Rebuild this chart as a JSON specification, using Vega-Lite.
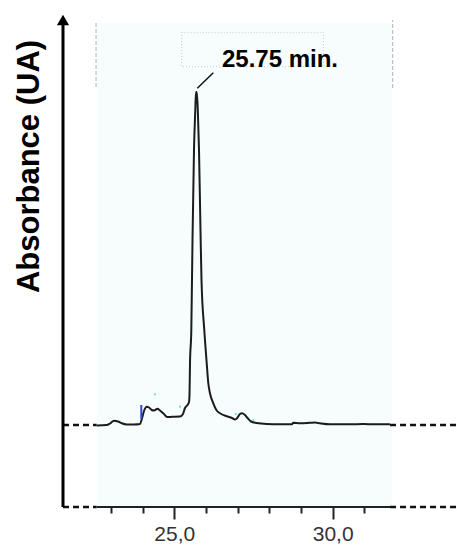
{
  "$schema": "https://vega.github.io/schema/vega-lite/v6.json",
  "width": 394,
  "height": 493,
  "autosize": "none",
  "padding": {"left": 63, "top": 14, "right": 0, "bottom": 38},
  "background": "white",
  "config": {"view": {"stroke": null}},
  "datasets": {
    "panel": [{"t": 22.55, "t2": 31.87, "a": -82, "a2": 402}],
    "frameEdges": [{"t": 22.53, "a": 338, "a2": 402}, {"t": 31.894, "a": 337, "a2": 405}],
    "labelBox": [{"t": 25.234, "t2": 29.706, "a": 358.3, "a2": 392.3}],
    "dashed": [
      {"t": 21.487, "t2": 22.55, "a": 0},
      {"t": 31.81, "t2": 33.924, "a": 0},
      {"t": 21.487, "t2": 22.55, "a": -82},
      {"t": 31.81, "t2": 33.924, "a": -82}
    ],
    "axisLine": [{"t": 22.55, "t2": 31.81, "a": -82}],
    "yAxis": [{"t": 21.487, "a": -82, "a2": 405}],
    "arrowHead": [{"t": 21.487, "a": 405}],
    "curve": [
      {"t": 22.550, "a": -0.5},
      {"t": 22.866, "a": 0},
      {"t": 22.970, "a": 1.5},
      {"t": 23.097, "a": 4.3},
      {"t": 23.223, "a": 3.5},
      {"t": 23.340, "a": 1.7},
      {"t": 23.497, "a": 0.5},
      {"t": 23.728, "a": 0.5},
      {"t": 23.917, "a": 1},
      {"t": 23.971, "a": 5.5},
      {"t": 24.044, "a": 14},
      {"t": 24.129, "a": 18.3},
      {"t": 24.201, "a": 17.5},
      {"t": 24.287, "a": 15},
      {"t": 24.359, "a": 14.5},
      {"t": 24.470, "a": 16.2},
      {"t": 24.549, "a": 14.5},
      {"t": 24.653, "a": 11.7},
      {"t": 24.779, "a": 8},
      {"t": 24.927, "a": 8.2},
      {"t": 25.180, "a": 8.5},
      {"t": 25.275, "a": 11},
      {"t": 25.338, "a": 17},
      {"t": 25.417, "a": 20},
      {"t": 25.464, "a": 23},
      {"t": 25.480, "a": 30},
      {"t": 25.496, "a": 62},
      {"t": 25.537, "a": 95},
      {"t": 25.575, "a": 185},
      {"t": 25.622, "a": 275},
      {"t": 25.663, "a": 315},
      {"t": 25.685, "a": 333},
      {"t": 25.710, "a": 333},
      {"t": 25.742, "a": 315},
      {"t": 25.780, "a": 275},
      {"t": 25.827, "a": 195},
      {"t": 25.859, "a": 145},
      {"t": 25.947, "a": 95},
      {"t": 26.023, "a": 62},
      {"t": 26.073, "a": 42},
      {"t": 26.127, "a": 31.7},
      {"t": 26.231, "a": 21.7},
      {"t": 26.338, "a": 14.5},
      {"t": 26.443, "a": 11.7},
      {"t": 26.654, "a": 8.7},
      {"t": 26.821, "a": 7},
      {"t": 26.916, "a": 5.5},
      {"t": 26.989, "a": 7},
      {"t": 27.074, "a": 11},
      {"t": 27.137, "a": 11.7},
      {"t": 27.232, "a": 10},
      {"t": 27.326, "a": 6.5},
      {"t": 27.421, "a": 3.5},
      {"t": 27.601, "a": 2},
      {"t": 27.917, "a": 1},
      {"t": 28.337, "a": 0.7},
      {"t": 28.715, "a": 0.7},
      {"t": 28.756, "a": 2.2},
      {"t": 28.968, "a": 1.7},
      {"t": 29.283, "a": 2.2},
      {"t": 29.441, "a": 2.5},
      {"t": 29.599, "a": 1.7},
      {"t": 29.915, "a": 0.7},
      {"t": 30.546, "a": 0.7},
      {"t": 30.956, "a": 1},
      {"t": 31.335, "a": 0.7},
      {"t": 31.809, "a": 0.7}
    ],
    "blueMark": [{"t": 23.958, "a": 6, "a2": 20}],
    "specks": [
      {"t": 24.391, "a": 30.7},
      {"t": 25.180, "a": 18.3},
      {"t": 26.938, "a": 11},
      {"t": 27.494, "a": 5}
    ],
    "leader": [{"t": 25.726, "t2": 26.231, "a": 336.7, "a2": 352.3}],
    "peakLabel": [{"t": 28.337, "a": 358.3, "text": "25.75 min."}]
  },
  "encoding": {
    "x": {
      "field": "t",
      "type": "quantitative",
      "scale": {"domain": [21.487, 33.924], "nice": false, "zero": false},
      "axis": {
        "values": [23, 24, 25, 26, 27, 28, 29, 30, 31],
        "labelExpr": "datum.value % 5 === 0 ? replace(format(datum.value, '.1f'), '.', ',') : ''",
        "tickSize": {"condition": {"test": "datum.value % 5 === 0", "value": 12}, "value": 6},
        "tickWidth": 2,
        "tickColor": "#222222",
        "domain": false,
        "grid": false,
        "title": null,
        "labelFontSize": 21,
        "labelFont": "Liberation Sans",
        "labelColor": "#333333",
        "labelPadding": 4,
        "labelFlush": false,
        "labelOverlap": false
      }
    },
    "y": {
      "field": "a",
      "type": "quantitative",
      "scale": {"domain": [-82, 411], "nice": false, "zero": false},
      "axis": {
        "title": "Absorbance (UA)",
        "titleFontSize": 31,
        "titleFont": "Liberation Sans",
        "titleFontWeight": "bold",
        "titleColor": "#000000",
        "titleX": -25,
        "titleY": 152,
        "titleAngle": 270,
        "titleAlign": "center",
        "titleBaseline": "alphabetic",
        "domain": false,
        "ticks": false,
        "labels": false,
        "grid": false
      }
    }
  },
  "layer": [
    {
      "data": {"name": "panel"},
      "mark": {"type": "rect", "fill": "#f7fcfc", "stroke": null},
      "encoding": {"x2": {"field": "t2"}, "y2": {"field": "a2"}}
    },
    {
      "data": {"name": "frameEdges"},
      "mark": {"type": "rule", "color": "#b0b0b0", "strokeWidth": 1, "strokeDash": [4, 2]},
      "encoding": {"y2": {"field": "a2"}}
    },
    {
      "data": {"name": "labelBox"},
      "mark": {"type": "rect", "fill": null, "stroke": "#c8c8c8", "strokeWidth": 1, "strokeDash": [1, 2]},
      "encoding": {"x2": {"field": "t2"}, "y2": {"field": "a2"}}
    },
    {
      "data": {"name": "dashed"},
      "mark": {"type": "rule", "color": "#111111", "strokeWidth": 2.5, "strokeDash": [6, 4]},
      "encoding": {"x2": {"field": "t2"}}
    },
    {
      "data": {"name": "axisLine"},
      "mark": {"type": "rule", "color": "#222222", "strokeWidth": 2},
      "encoding": {"x2": {"field": "t2"}}
    },
    {
      "data": {"name": "yAxis"},
      "mark": {"type": "rule", "color": "#000000", "strokeWidth": 3},
      "encoding": {"y2": {"field": "a2"}}
    },
    {
      "data": {"name": "arrowHead"},
      "mark": {"type": "point", "shape": "triangle-up", "filled": true, "color": "#000000", "size": 150, "opacity": 1},
      "encoding": {}
    },
    {
      "data": {"name": "curve"},
      "mark": {"type": "line", "color": "#1c1c1c", "strokeWidth": 2, "interpolate": "monotone", "clip": true},
      "encoding": {}
    },
    {
      "data": {"name": "blueMark"},
      "mark": {"type": "rule", "color": "#3344dd", "strokeWidth": 2},
      "encoding": {"y2": {"field": "a2"}}
    },
    {
      "data": {"name": "specks"},
      "mark": {"type": "point", "shape": "circle", "filled": true, "color": "#66dddd", "size": 5, "opacity": 1},
      "encoding": {}
    },
    {
      "data": {"name": "leader"},
      "mark": {"type": "rule", "color": "#111111", "strokeWidth": 1.5},
      "encoding": {"x2": {"field": "t2"}, "y2": {"field": "a2"}}
    },
    {
      "data": {"name": "peakLabel"},
      "mark": {"type": "text", "font": "Liberation Sans", "fontSize": 24, "fontWeight": "bold", "color": "#000000", "align": "center", "baseline": "alphabetic"},
      "encoding": {"text": {"field": "text"}}
    }
  ]
}
